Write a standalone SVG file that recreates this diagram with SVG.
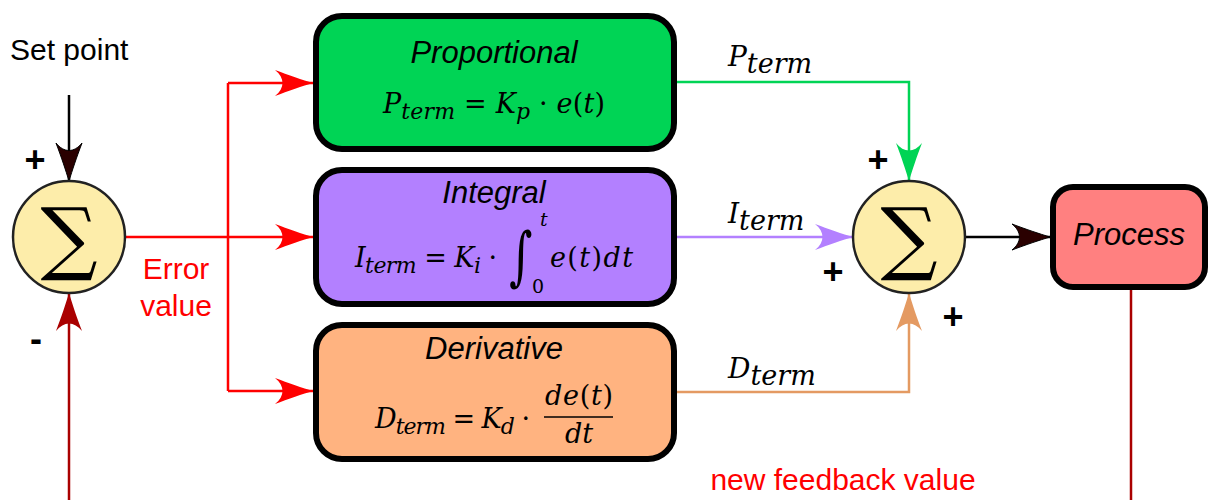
<svg xmlns="http://www.w3.org/2000/svg" width="1208" height="500" viewBox="0 0 1208 500">
<style>
.lbl{font-family:"Liberation Sans",Arial,sans-serif;font-size:30px}
.title{font-family:"Liberation Sans",Arial,sans-serif;font-size:31px;font-style:italic;fill:#000}
.math{font-family:"DejaVu Serif","Liberation Serif",serif;font-style:italic;font-size:27px;fill:#000}
.up{font-style:normal}
.sub{font-size:22px}
.lsub{font-size:27px}
.big{font-size:28px}
.sml{font-size:19px}
.intg{font-size:64px}
.sign{font-family:"Liberation Sans",Arial,sans-serif;font-size:36px;font-weight:bold;fill:#000}
.box{stroke:#000;stroke-width:6}
.sum{fill:#fdedaa;stroke:#222;stroke-width:2.5}
.sigma{font-family:"DejaVu Serif",serif;font-size:80px;fill:#000}
.ln{fill:none;stroke-width:2.5}
</style>
<defs>
<marker id="aRed" markerUnits="userSpaceOnUse" markerWidth="40" markerHeight="30" refX="0" refY="0" orient="auto" overflow="visible"><path d="M0,0 C-10,-3 -25,-8 -38,-13 C-28,-5 -28,5 -38,13 C-25,8 -10,3 0,0 Z" fill="#ff0000"/></marker>
<marker id="aGreen" markerUnits="userSpaceOnUse" markerWidth="40" markerHeight="30" refX="0" refY="0" orient="auto" overflow="visible"><path d="M0,0 C-10,-3 -25,-8 -38,-13 C-28,-5 -28,5 -38,13 C-25,8 -10,3 0,0 Z" fill="#00d455"/></marker>
<marker id="aPurple" markerUnits="userSpaceOnUse" markerWidth="40" markerHeight="30" refX="0" refY="0" orient="auto" overflow="visible"><path d="M0,0 C-10,-3 -25,-8 -38,-13 C-28,-5 -28,5 -38,13 C-25,8 -10,3 0,0 Z" fill="#b380ff"/></marker>
<marker id="aOrange" markerUnits="userSpaceOnUse" markerWidth="40" markerHeight="30" refX="0" refY="0" orient="auto" overflow="visible"><path d="M0,0 C-10,-3 -25,-8 -38,-13 C-28,-5 -28,5 -38,13 C-25,8 -10,3 0,0 Z" fill="#e49a62"/></marker>
<marker id="aDark" markerUnits="userSpaceOnUse" markerWidth="40" markerHeight="30" refX="0" refY="0" orient="auto" overflow="visible"><path d="M0,0 C-10,-3 -25,-8 -38,-13 C-28,-5 -28,5 -38,13 C-25,8 -10,3 0,0 Z" fill="#aa0000"/></marker>
<marker id="aBlack" markerUnits="userSpaceOnUse" markerWidth="40" markerHeight="30" refX="0" refY="0" orient="auto" overflow="visible"><path d="M0,0 C-10,-3 -25,-8 -38,-13 C-28,-5 -28,5 -38,13 C-25,8 -10,3 0,0 Z" fill="#2a0000" stroke="#000" stroke-width="1"/></marker>
</defs>
<rect width="1208" height="500" fill="#fff"/>

<g id="connectors">
<path class="ln" stroke="#000" d="M69,95 V181" marker-end="url(#aBlack)"/>
<path class="ln" stroke="#aa0000" d="M69,500 V293" marker-end="url(#aDark)"/>
<path class="ln" stroke="#ff0000" d="M126,237 H228"/>
<path class="ln" stroke="#ff0000" d="M228,83 V391"/>
<path class="ln" stroke="#ff0000" d="M228,83 H313" marker-end="url(#aRed)"/>
<path class="ln" stroke="#ff0000" d="M228,237 H313" marker-end="url(#aRed)"/>
<path class="ln" stroke="#ff0000" d="M228,391 H313" marker-end="url(#aRed)"/>
<path class="ln" stroke="#00d455" d="M677,82 H909 V181" marker-end="url(#aGreen)"/>
<path class="ln" stroke="#b380ff" d="M677,237 H853" marker-end="url(#aPurple)"/>
<path class="ln" stroke="#e49a62" d="M677,392 H909 V293" marker-end="url(#aOrange)"/>
<path class="ln" stroke="#000" d="M965,237 H1050" marker-end="url(#aBlack)"/>
<path class="ln" stroke="#aa0000" d="M1131,290 V500"/>
</g>

<g id="setpoint"><text class="lbl" x="10" y="60">Set point</text></g>
<g id="error-label"><text class="lbl" x="176" y="279" text-anchor="middle" fill="#ff0000">Error</text><text class="lbl" x="176" y="316" text-anchor="middle" fill="#ff0000">value</text></g>
<g id="feedback-label"><text class="lbl" x="843" y="490" text-anchor="middle" fill="#ff0000">new feedback value</text></g>

<g id="sum1">
<circle class="sum" cx="69" cy="237" r="56"/>
<text class="sigma" x="69" y="265" text-anchor="middle">∑</text>
<text class="sign" x="35" y="172" text-anchor="middle">+</text>
<text class="sign" x="36" y="351" text-anchor="middle">-</text>
</g>

<g id="proportional">
<rect class="box" x="316" y="16" width="358" height="133" rx="26" fill="#00d455"/>
<text class="title" x="494" y="63" text-anchor="middle">Proportional</text>
<text class="math" x="383" y="113" textLength="222" lengthAdjust="spacing">P<tspan class="sub" dy="6">term</tspan><tspan class="up" dy="-6"> = </tspan>K<tspan class="sub" dy="6">p</tspan><tspan class="up" dy="-6"> · </tspan>e<tspan class="up">(</tspan>t<tspan class="up">)</tspan></text>
</g>

<g id="integral">
<rect class="box" x="316" y="170" width="358" height="134" rx="26" fill="#b380ff"/>
<text class="title" x="494" y="203" text-anchor="middle">Integral</text>
<text class="math" x="355" y="267" textLength="142" lengthAdjust="spacing">I<tspan class="sub" dy="6">term</tspan><tspan class="up" dy="-6"> = </tspan>K<tspan class="sub" dy="6">i</tspan><tspan class="up" dy="-6"> ·</tspan></text>
<text class="math up intg" x="0" y="0" transform="translate(509,278) scale(0.7,1)">∫</text>
<text class="math sml" x="540" y="226">t</text>
<text class="math up sml" x="532" y="293">0</text>
<text class="math" x="550" y="267" textLength="83" lengthAdjust="spacing">e<tspan class="up">(</tspan>t<tspan class="up">)</tspan>dt</text>
</g>

<g id="derivative">
<rect class="box" x="316" y="325" width="358" height="134" rx="26" fill="#ffb380"/>
<text class="title" x="494" y="359" text-anchor="middle">Derivative</text>
<text class="math" x="375" y="428" textLength="155" lengthAdjust="spacing">D<tspan class="sub" dy="6">term</tspan><tspan class="up" dy="-6"> = </tspan>K<tspan class="sub" dy="6">d</tspan><tspan class="up" dy="-6"> ·</tspan></text>
<text class="math" x="545" y="405" textLength="68" lengthAdjust="spacing">de<tspan class="up">(</tspan>t<tspan class="up">)</tspan></text>
<line x1="544" y1="417" x2="613" y2="417" stroke="#000" stroke-width="1.5"/>
<text class="math" x="565" y="443" textLength="28" lengthAdjust="spacing">dt</text>
</g>

<g id="term-labels">
<text class="math big" x="728" y="66">P<tspan class="lsub" dy="7">term</tspan></text>
<text class="math big" x="728" y="223">I<tspan class="lsub" dy="7">term</tspan></text>
<text class="math big" x="728" y="378">D<tspan class="lsub" dy="7">term</tspan></text>
</g>

<g id="sum2">
<circle class="sum" cx="909" cy="237" r="56"/>
<text class="sigma" x="909" y="265" text-anchor="middle">∑</text>
<text class="sign" x="878" y="172" text-anchor="middle">+</text>
<text class="sign" x="833" y="284" text-anchor="middle">+</text>
<text class="sign" x="953" y="329" text-anchor="middle">+</text>
</g>

<g id="process">
<rect class="box" x="1053" y="187" width="152" height="100" rx="20" fill="#ff8080"/>
<text class="title" x="1129" y="245" text-anchor="middle">Process</text>
</g>
</svg>
